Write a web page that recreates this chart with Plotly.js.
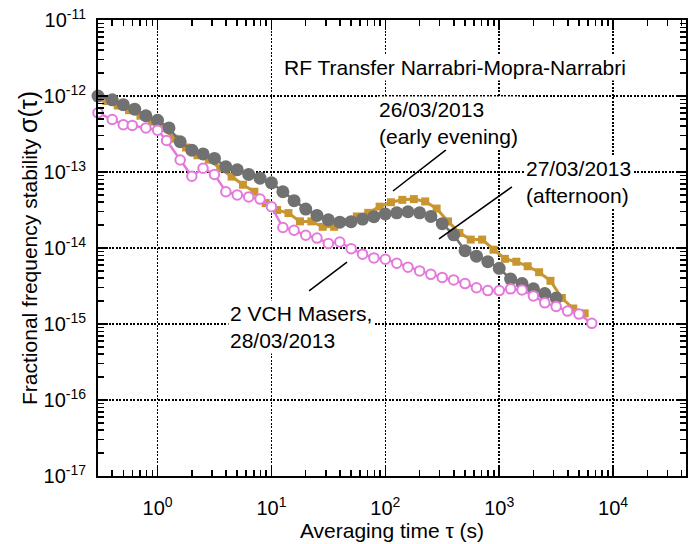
<!DOCTYPE html>
<html><head><meta charset="utf-8">
<script src="https://cdn.plot.ly/plotly-3.0.1.min.js"></script>
<style>html,body{margin:0;padding:0;background:#fff}#chart{width:688px;height:544px}</style>
</head><body><div id="chart"></div>
<script>
// Averaging times (s) and Allan deviations
const tauEvening26 = [0.3, 0.4, 0.5, 0.63, 0.79, 1, 1.26, 1.58, 2, 2.51, 3.16, 3.98, 5.01, 6.31, 7.94,
  10, 12.6, 15.8, 20, 25.1, 31.6, 39.8, 50.1, 63.1, 79.4, 100, 126, 158, 200, 251, 316, 398, 501,
  631, 794, 1000, 1259, 1585, 1995, 2512, 3162];
const sigmaEvening26 = [1.0e-12, 8.9e-13, 7.7e-13, 6.7e-13, 5.5e-13, 4.8e-13, 3.8e-13, 2.5e-13, 1.94e-13,
  1.73e-13, 1.51e-13, 1.17e-13, 1.07e-13, 9.3e-14, 8.3e-14, 7.2e-14, 5.5e-14, 4.2e-14, 3.25e-14,
  2.68e-14, 2.35e-14, 2.19e-14, 2.22e-14, 2.4e-14, 2.58e-14, 2.8e-14, 2.9e-14, 3.0e-14, 2.9e-14,
  2.6e-14, 2.09e-14, 1.49e-14, 9.2e-15, 7.8e-15, 6.6e-15, 5.4e-15, 3.9e-15, 3.4e-15, 2.9e-15,
  2.52e-15, 2.2e-15];

const tauAfternoon27 = [0.3, 0.355, 0.447, 0.562, 0.708, 0.891, 1.12, 1.41, 1.78, 2.24, 2.82, 3.55, 4.47,
  5.62, 7.08, 8.91, 11.2, 14.1, 17.8, 22.4, 28.2, 35.5, 44.7, 56.2, 70.8, 89.1, 112, 141, 178, 224,
  282, 355, 447, 562, 708, 891, 1122, 1413, 1778, 2239, 2818, 3548, 4467, 5623];
const sigmaAfternoon27 = [9.5e-13, 8.6e-13, 7.5e-13, 6.5e-13, 5.5e-13, 4.6e-13, 3.8e-13, 2.75e-13, 2.1e-13,
  1.66e-13, 1.45e-13, 1.12e-13, 8.7e-14, 6.8e-14, 5.5e-14, 3.9e-14, 3.16e-14, 2.88e-14, 2.24e-14,
  2.24e-14, 1.9e-14, 1.9e-14, 2.2e-14, 2.6e-14, 2.9e-14, 3.5e-14, 4.0e-14, 4.3e-14, 4.4e-14, 4.1e-14,
  3.3e-14, 2.24e-14, 1.58e-14, 1.29e-14, 1.29e-14, 9.5e-15, 7.2e-15, 6.6e-15, 5.75e-15, 4.8e-15,
  3.7e-15, 2.2e-15, 1.6e-15, 1.38e-15];

const tauMasers28 = [0.3, 0.4, 0.5, 0.6, 0.79, 1, 1.2, 1.58, 2, 2.51, 3.16, 3.98, 5.01, 6.31, 7.94,
  10, 12.6, 15.8, 20, 25.1, 31.6, 39.8, 50.1, 63.1, 79.4, 100, 126, 158, 200, 251, 316, 398, 501,
  631, 794, 1000, 1259, 1585, 1995, 2512, 3162, 3981, 5012, 6500];
const sigmaMasers28 = [6.0e-13, 4.9e-13, 4.2e-13, 4.1e-13, 3.8e-13, 3.55e-13, 2.6e-13, 1.44e-13, 8.8e-14,
  1.12e-13, 9.3e-14, 5.5e-14, 5.0e-14, 4.7e-14, 4.4e-14, 3.5e-14, 1.86e-14, 1.71e-14, 1.47e-14,
  1.35e-14, 1.15e-14, 1.2e-14, 9.8e-15, 8.3e-15, 7.4e-15, 7.1e-15, 6.3e-15, 5.6e-15, 5.0e-15,
  4.5e-15, 4.1e-15, 3.8e-15, 3.4e-15, 3.0e-15, 2.75e-15, 2.75e-15, 2.9e-15, 2.8e-15, 2.34e-15,
  1.9e-15, 1.7e-15, 1.48e-15, 1.35e-15, 1.02e-15];

const yTickVals = [1e-17, 1e-16, 1e-15, 1e-14, 1e-13, 1e-12, 1e-11];
const yTickText = ['10<sup>-17</sup>', '10<sup>-16</sup>', '10<sup>-15</sup>', '10<sup>-14</sup>',
  '10<sup>-13</sup>', '10<sup>-12</sup>', '10<sup>-11</sup>'];
const xTickVals = [1, 10, 100, 1000, 10000];
const xTickText = ['10<sup>0</sup>', '10<sup>1</sup>', '10<sup>2</sup>', '10<sup>3</sup>', '10<sup>4</sup>'];

// minor tick positions (2..9 per decade)
const xMinor = [];
for (let e = -1; e <= 4; e++) for (let m = 2; m <= 9; m++) xMinor.push(m * Math.pow(10, e));
const yMinor = [];
for (let e = -17; e <= -12; e++) for (let m = 2; m <= 9; m++) yMinor.push(m * Math.pow(10, e));

const FONT = 'Liberation Sans, Arial, Helvetica, sans-serif';
const GOLD = '#C8952F', GRAY = '#717171', PINK = '#E579DB';

const traces = [
  {x: tauAfternoon27, y: sigmaAfternoon27, type: 'scatter', mode: 'lines+markers', cliponaxis: false,
   line: {color: GOLD, width: 3}, marker: {symbol: 'square', size: 8, color: GOLD}},
  {x: tauEvening26, y: sigmaEvening26, type: 'scatter', mode: 'lines+markers', cliponaxis: false,
   line: {color: GRAY, width: 2.5}, marker: {symbol: 'circle', size: 13, color: GRAY}},
  {x: tauMasers28, y: sigmaMasers28, type: 'scatter', mode: 'lines+markers', cliponaxis: false,
   line: {color: PINK, width: 2.5}, marker: {symbol: 'circle', size: 9.5, color: '#ffffff', line: {color: PINK, width: 2}}}
];

const axisCommon = {
  type: 'log', showline: true, linecolor: '#000', linewidth: 2, mirror: 'allticks',
  ticks: 'inside', ticklen: 10, tickwidth: 1.5, tickcolor: '#000',
  showgrid: true, gridcolor: '#000', gridwidth: 1.5, griddash: '2px,1.5px', zeroline: false,
  tickmode: 'array', tickfont: {size: 20, color: '#000', family: FONT}
};

const layout = {
  width: 688, height: 544,
  margin: {l: 98, r: 2, t: 20, b: 68},
  paper_bgcolor: '#fff', plot_bgcolor: '#fff', showlegend: false,
  font: {family: FONT, size: 20, color: '#000'},
  xaxis: Object.assign({}, axisCommon, {
    range: [Math.log10(0.3), 4.64], tickvals: xTickVals, ticktext: xTickText, ticklabelstandoff: 13,
    minor: {tickmode: 'array', tickvals: xMinor, ticks: 'inside', ticklen: 6, tickwidth: 1.5, tickcolor: '#000', showgrid: false},
    title: {text: 'Averaging time τ (s)', font: {size: 21, family: FONT}, standoff: 4}
  }),
  yaxis: Object.assign({}, axisCommon, {
    range: [-17, -11], tickvals: yTickVals, ticktext: yTickText, ticklabelstandoff: 6,
    minor: {tickmode: 'array', tickvals: yMinor, ticks: 'inside', ticklen: 6, tickwidth: 1.5, tickcolor: '#000', showgrid: false},
    title: {text: 'Fractional frequency stability <span style="font-size:25px">σ(τ)</span>', font: {size: 21, family: FONT}}
  }),
  annotations: [
    {xref: 'paper', yref: 'paper', x: 0.313, y: 0.895, xanchor: 'left', yanchor: 'middle', showarrow: false,
     text: 'RF Transfer Narrabri-Mopra-Narrabri', font: {size: 21, family: FONT}, bgcolor: '#fff'},
    {xref: 'paper', yref: 'paper', x: 0.474, y: 0.774, xanchor: 'left', yanchor: 'middle', showarrow: false, align: 'left',
     text: '26/03/2013<br>(early evening)', font: {size: 21, family: FONT}, bgcolor: '#fff'},
    {xref: 'paper', yref: 'paper', x: 0.724, y: 0.644, xanchor: 'left', yanchor: 'middle', showarrow: false, align: 'left',
     text: '27/03/2013<br>(afternoon)', font: {size: 21, family: FONT}, bgcolor: '#fff'},
    {xref: 'paper', yref: 'paper', x: 0.221, y: 0.326, xanchor: 'left', yanchor: 'middle', showarrow: false, align: 'left',
     text: '2 VCH Masers,<br>28/03/2013', font: {size: 21, family: FONT}, bgcolor: '#fff'}
  ],
  shapes: [
    {type: 'line', xref: 'paper', yref: 'paper', x0: 0.5017, y0: 0.625, x1: 0.5918, y1: 0.715, line: {color: '#000', width: 1.5}},
    {type: 'line', xref: 'paper', yref: 'paper', x0: 0.580, y0: 0.520, x1: 0.704, y1: 0.634, line: {color: '#000', width: 1.5}},
    {type: 'line', xref: 'paper', yref: 'paper', x0: 0.359, y0: 0.406, x1: 0.4235, y1: 0.469, line: {color: '#000', width: 1.5}}
  ]
};

Plotly.newPlot('chart', traces, layout, {staticPlot: true, displayModeBar: false});
</script>
</body></html>
